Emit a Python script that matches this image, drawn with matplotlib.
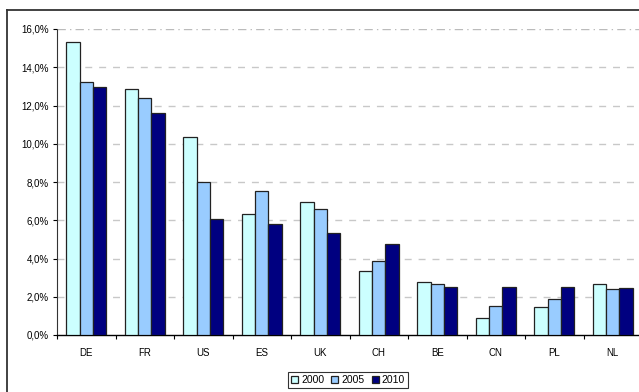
import numpy as np
import matplotlib
matplotlib.use("Agg")
import matplotlib.pyplot as plt
from matplotlib.lines import Line2D

countries = ["DE", "FR", "US", "ES", "UK", "CH", "BE", "CN", "PL", "NL"]
years = ["2000", "2005", "2010"]
share_2000 = [15.34, 12.85, 10.35, 6.33, 6.97, 3.33, 2.77, 0.89, 1.48, 2.65]
share_2005 = [13.24, 12.37, 8.02, 7.53, 6.57, 3.89, 2.67, 1.53, 1.87, 2.42]
share_2010 = [12.98, 11.59, 6.05, 5.79, 5.35, 4.74, 2.51, 2.51, 2.51, 2.47]
yticks = [0, 2, 4, 6, 8, 10, 12, 14, 16]

colors = ["#CCFFFF", "#99CCFF", "#000080"]

plt.rcParams["font.family"] = ["Liberation Sans", "DejaVu Sans"]

W, H = 639, 392
fig = plt.figure(figsize=(W / 100, H / 100), dpi=100)

# outer chart frame (only top and left visible)
fig.add_artist(Line2D([7 / W, 7 / W], [0, 1 - 10 / H], transform=fig.transFigure,
                      color="#333333", lw=1.3))
fig.add_artist(Line2D([7 / W, 1], [1 - 10 / H, 1 - 10 / H], transform=fig.transFigure,
                      color="#333333", lw=1.3))

ax = fig.add_axes([57 / W, 57 / H, (642 - 57) / W, (335 - 29) / H])

x = np.arange(len(countries))
w = 0.227
series = [share_2000, share_2005, share_2010]
for k, (vals, c, yr) in enumerate(zip(series, colors, years)):
    ax.bar(x + (k - 1) * w, vals, width=w, color=c, edgecolor="#222222",
           linewidth=0.9, label=yr, zorder=3)

ax.set_xlim(-0.5, len(countries) - 0.5)
ax.set_ylim(0, 16)

# dashed grid
for v in yticks[1:-1]:
    ax.axhline(v, color="#C8C8C8", lw=1.0, ls=(0, (5, 5)), zorder=1)
ax.axhline(16, color="#BBBBBB", lw=1.0, ls=(0, (6, 3, 1, 3)), zorder=1)

ax.set_yticks(yticks)
ax.set_yticklabels([f"{v:.1f}%".replace(".", ",") for v in yticks], fontsize=7)
ax.set_xticks(x)
ax.set_xticklabels(countries, fontsize=7)
ax.set_xticks(np.arange(-0.5, len(countries), 1.0), minor=True)
ax.tick_params(axis="x", which="major", length=0, pad=9)
ax.tick_params(axis="x", which="minor", length=3, width=0.8, direction="out")
ax.tick_params(axis="y", length=3, width=0.8, direction="out", pad=3)

for s in ["top", "right"]:
    ax.spines[s].set_visible(False)
ax.spines["left"].set_linestyle((0, (1, 1)))
ax.spines["left"].set_color("#333333")
ax.spines["bottom"].set_color("black")
ax.spines["bottom"].set_linewidth(1.0)

leg = fig.legend(loc="center", bbox_to_anchor=(348 / W, 1 - 380 / H), ncol=3,
                 fontsize=7.5, frameon=True, fancybox=False, edgecolor="black",
                 handlelength=0.65, handleheight=0.65, handletextpad=0.3,
                 columnspacing=0.7, borderpad=0.3, borderaxespad=0)
leg.get_frame().set_linewidth(0.8)

fig.savefig("out.png", dpi=100)
